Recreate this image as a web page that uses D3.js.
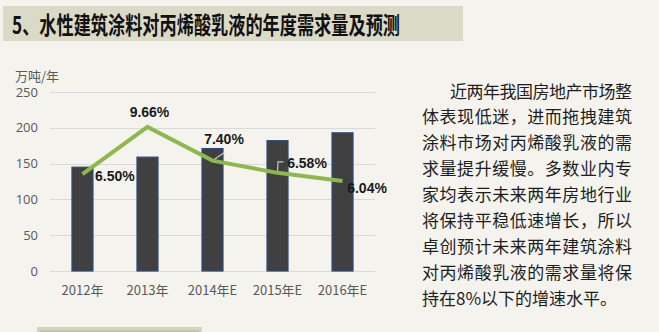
<!DOCTYPE html>
<html>
<head>
<meta charset="utf-8">
<script src="https://cdn.jsdelivr.net/npm/d3@7"></script>
<style>
  html, body { margin: 0; padding: 0; background: #f5f3ee; }
  svg { display: block; }
</style>
</head>
<body>
<script>
// Annual demand of acrylic emulsion for waterborne architectural coatings
const years = ["2012年", "2013年", "2014年E", "2015年E", "2016年E"];
const demand = [145, 159, 171, 182, 193];          // 万吨/年
const growth = [6.50, 9.66, 7.40, 6.58, 6.04];      // %
const yTicks = [0, 50, 100, 150, 200, 250];
const titleText = "5、水性建筑涂料对丙烯酸乳液的年度需求量及预测";
const unitText = "万吨/年";
const paragraph = [
  "近两年我国房地产市场整",
  "体表现低迷，进而拖拽建筑",
  "涂料市场对丙烯酸乳液的需",
  "求量提升缓慢。多数业内专",
  "家均表示未来两年房地行业",
  "将保持平稳低速增长，所以",
  "卓创预计未来两年建筑涂料",
  "对丙烯酸乳液的需求量将保",
  "持在8%以下的增速水平。"
];

const W = 659, H = 332;
const svg = d3.select("body").append("svg").attr("width", W).attr("height", H);

svg.append("rect").attr("width", W).attr("height", H).attr("fill", "#f5f3ee");

// Title band
svg.append("rect").attr("x", 3).attr("y", 6).attr("width", 460).attr("height", 35)
  .attr("fill", "#dbdac7");
svg.append("text").attr("x", 12).attr("y", 24).attr("dominant-baseline", "central")
  .attr("font-family", "'Noto Sans CJK SC', sans-serif")
  .attr("font-weight", "bold").attr("font-size", 23.5).attr("fill", "#111")
  .attr("textLength", 388).attr("lengthAdjust", "spacingAndGlyphs")
  .text(titleText);

// Chart scales
const x = d3.scaleBand().domain(years).range([50, 375]).paddingInner(0.677).paddingOuter(0.338);
const y = d3.scaleLinear().domain([0, 250]).range([271, 92]);
const y2 = d3.scaleLinear().domain([0, 12]).range([271, 92]);
const cx = d => x(d) + x.bandwidth() / 2;

// Gridlines
svg.append("g").selectAll("line").data(yTicks).join("line")
  .attr("x1", 50).attr("x2", 375)
  .attr("y1", d => Math.round(y(d)) + 0.5).attr("y2", d => Math.round(y(d)) + 0.5)
  .attr("stroke", "#d9d9d9").attr("stroke-width", 1);

// Y axis labels
const yAxis = d3.axisLeft(y).tickValues(yTicks).tickSize(0).tickPadding(0);
const gy = svg.append("g").attr("transform", "translate(38,0)").call(yAxis);
gy.select(".domain").remove();
gy.selectAll("text").attr("font-family", "'Open Sans', 'Noto Sans', sans-serif")
  .attr("font-size", 13).attr("fill", "#595959");

svg.append("text").attr("x", 15).attr("y", 75).attr("dominant-baseline", "central")
  .attr("font-family", "'Noto Sans CJK SC', sans-serif").attr("font-size", 13)
  .attr("fill", "#595959").text(unitText);

// X axis labels
const xAxis = d3.axisBottom(x).tickSize(0).tickPadding(0);
const gx = svg.append("g").attr("transform", "translate(0,286)").call(xAxis);
gx.select(".domain").remove();
gx.selectAll("text").attr("font-family", "'Noto Sans CJK SC', sans-serif")
  .attr("font-size", 13).attr("fill", "#595959");

// Bars
svg.append("g").selectAll("rect").data(demand).join("rect")
  .attr("x", (d, i) => x(years[i]))
  .attr("y", d => y(d))
  .attr("width", x.bandwidth())
  .attr("height", d => y(0) - y(d))
  .attr("fill", "#404040")
  .attr("stroke", "#2b4c7e").attr("stroke-width", 1.2);

// Leader lines for two labels
const lead = svg.append("g").attr("stroke", "#c8c8c8").attr("stroke-width", 1.2).attr("fill", "none");
lead.append("path").attr("d", `M${cx(years[2])},${y2(growth[2])} L${cx(years[2]) + 12},${y2(growth[2]) - 8}`);
lead.append("path").attr("d", `M${cx(years[3])},${y2(growth[3]) - 1} L${cx(years[3]) + 0.5},${y2(growth[3]) - 11} L${cx(years[3]) + 6},${y2(growth[3]) - 11}`);

// Growth line
const line = d3.line().x((d, i) => cx(years[i])).y(d => y2(d));
svg.append("path").datum(growth).attr("d", line)
  .attr("fill", "none").attr("stroke", "#8db84a").attr("stroke-width", 4)
  .attr("stroke-linejoin", "miter");

// Data labels
const labelOffsets = [[12.5, 2, "start"], [2, -15, "middle"], [11.5, -22, "middle"], [29.5, -10, "middle"], [24.5, 7, "middle"]];
svg.append("g").selectAll("text").data(growth).join("text")
  .attr("x", (d, i) => cx(years[i]) + labelOffsets[i][0])
  .attr("y", (d, i) => y2(d) + labelOffsets[i][1])
  .attr("text-anchor", (d, i) => labelOffsets[i][2])
  .attr("dominant-baseline", "central")
  .attr("font-family", "'Liberation Sans', Arial, sans-serif")
  .attr("font-weight", "bold").attr("font-size", 14).attr("fill", "#1a1a1a")
  .text(d => d.toFixed(2) + "%");

// Commentary paragraph
svg.append("g").selectAll("text").data(paragraph).join("text")
  .attr("x", (d, i) => i === 0 ? 450 : 422)
  .attr("y", (d, i) => 90 + i * 25.9)
  .attr("dominant-baseline", "central")
  .attr("font-family", "'Noto Sans CJK SC', sans-serif")
  .attr("font-size", 17).attr("fill", "#1e1e1e")
  .each(function (d, i) {
    const t = d3.select(this).text(d);
    if (i < paragraph.length - 1) {
      t.attr("textLength", i === 0 ? 182 : 210).attr("lengthAdjust", "spacing");
    }
  });

// Bottom tab
svg.append("rect").attr("x", 37).attr("y", 327).attr("width", 165).attr("height", 8)
  .attr("fill", "#d6d4bd");
svg.append("rect").attr("x", 40).attr("y", 330).attr("width", 159).attr("height", 5)
  .attr("fill", "#c4c5a6");
</script>
</body>
</html>
